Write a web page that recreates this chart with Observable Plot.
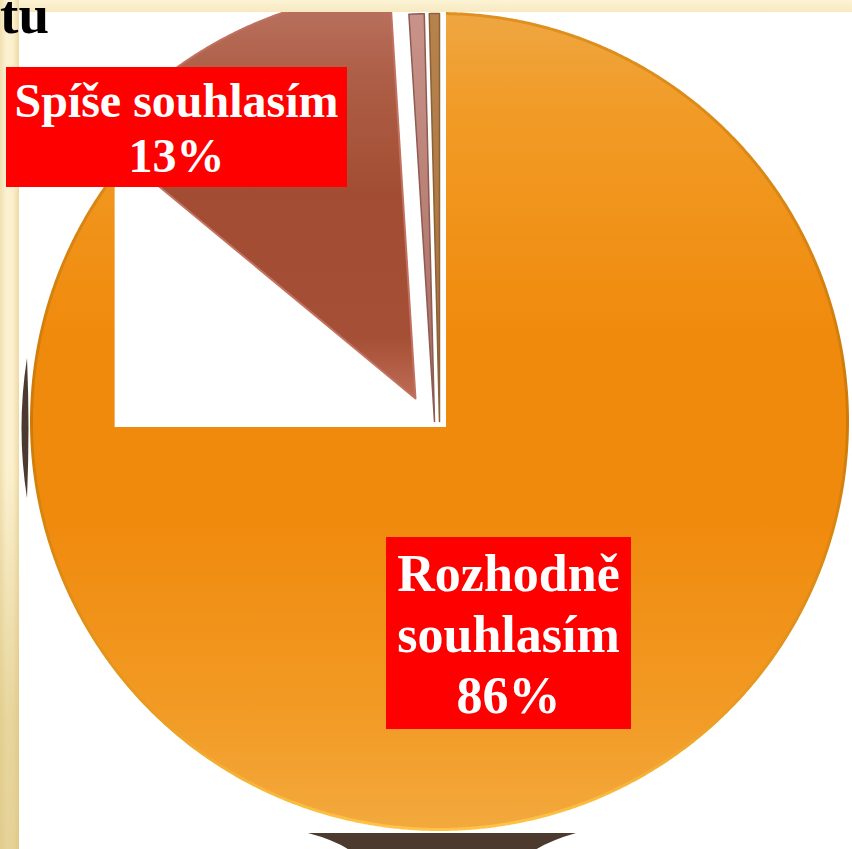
<!DOCTYPE html>
<html>
<head>
<meta charset="utf-8">
<script src="https://cdn.jsdelivr.net/npm/d3@7"></script>
<script src="https://cdn.jsdelivr.net/npm/@observablehq/plot@0.6"></script>
<style>
html, body { margin:0; padding:0; width:852px; height:849px; overflow:hidden; }
body { position:relative; background:#fbf0cb; }
#topstrip { position:absolute; left:0; top:0; width:852px; height:12px;
  background:linear-gradient(to bottom, #fdf4d6, #f7e9c0); }
#leftstrip { position:absolute; left:0; top:0; width:19px; height:849px;
  background:
    linear-gradient(to bottom, rgba(225,200,130,0) 0%, rgba(225,200,130,0) 55%, rgba(215,190,115,0.55) 85%, rgba(215,190,115,0.6) 100%),
    linear-gradient(to right, #f1e0b0 0%, #fcf2d1 35%, #fbefca 70%, #ecd9a6 100%); }
#paper { position:absolute; left:19px; top:12px; width:833px; height:837px; background:#fff; }
#deco { position:absolute; left:0; top:0; }
#chart { position:absolute; left:0; top:0; }
#chart svg { display:block; clip-path: inset(12px 0 0 19px); }
.lbl { position:absolute; box-sizing:border-box; background:#ff0000; color:#fff;
  font-family:"Liberation Serif","Times New Roman",serif; font-weight:bold; text-align:center; white-space:nowrap; }
#title { position:absolute; right:803px; top:-13px; font-family:"Liberation Serif","Times New Roman",serif;
  font-weight:bold; font-size:55px; line-height:55px; color:#000; }
</style>
</head>
<body>
<div id="topstrip"></div>
<div id="leftstrip"></div>
<div id="paper"></div>
<svg id="deco" width="852" height="849">
  <path d="M27,358 Q16,428 27,498 Q30,428 27,358 Z" fill="#4d3a2e"/>
  <path d="M308,833 L576,833 Q548,841 532,852 L352,852 Q338,841 308,833 Z" fill="#4d3a2e"/>
</svg>
<div id="chart"></div>
<div id="title">tu</div>
<script>
// ---- data ----
const categories = ["Rozhodně souhlasím", "Spíše souhlasím", "Spíše nesouhlasím", "Rozhodně nesouhlasím"];
const values = [86, 13, 0.6, 0.4];
const percentLabels = ["86%", "13%", "", ""];
const labelLines = [["Rozhodně", "souhlasím"], ["Spíše souhlasím"], [], []];

// ---- layout / style ----
const W = 852, H = 849, CX = 439, CY = 421, RPX = 408;
const explodePx = [[0, 0], [-24, -23], [-5, 0], [0, 0]];   // screen px offsets per slice
const fills = ["url(#g0)", "url(#g1)", "url(#g2)", "url(#g3)"];
const strokes = ["url(#g0s)", "#c07260", "#8d5b52", "#8d6035"];
const strokeWidths = [3, 2, 1.5, 1.5];
const labelBoxes = [
  {left:386, top:537, width:245, height:192, font:52, lh:61, pad:6},
  {left:6, top:67, width:341, height:120, font:48, lh:55, pad:6}
];

const pie = d3.pie().sort(null).value(d => d)(values);

function slicePoints(i) {
  const a = pie[i];
  const ox = explodePx[i][0] / RPX, oy = -explodePx[i][1] / RPX;
  const pts = [{x: ox, y: oy}];
  const n = Math.max(4, Math.ceil((a.endAngle - a.startAngle) / 0.005));
  for (let k = 0; k <= n; k++) {
    const t = a.startAngle + (a.endAngle - a.startAngle) * k / n;
    pts.push({x: ox + Math.sin(t), y: oy + Math.cos(t)});
  }
  return pts;
}

// white cut-out box: bounding box of the 13% slice's nominal position (with a small bevel margin)
const b = pie[1];
const bxs = d3.range(0, 101).map(k => Math.sin(b.startAngle + (b.endAngle - b.startAngle) * k / 100));
const bys = d3.range(0, 101).map(k => Math.cos(b.startAngle + (b.endAngle - b.startAngle) * k / 100));
const cutBox = [{
  x1: Math.min(0, d3.min(bxs)) - 10 / RPX,
  x2: Math.max(0, d3.max(bxs)) + 7 / RPX,
  y1: Math.min(0, d3.min(bys)) - 6 / RPX,
  y2: Math.max(0, d3.max(bys)) + 2 / RPX
}];

function sliceMark(i) {
  return Plot.line(slicePoints(i), {
    x: "x", y: "y", curve: "linear-closed",
    fill: fills[i], stroke: strokes[i], strokeWidth: strokeWidths[i], strokeLinejoin: "round"
  });
}

const chart = Plot.plot({
  width: W, height: H,
  marginTop: 0, marginRight: 0, marginBottom: 0, marginLeft: 0,
  x: {domain: [-CX / RPX, (W - CX) / RPX], axis: null},
  y: {domain: [-(H - CY) / RPX, CY / RPX], axis: null},
  style: {background: "transparent", overflow: "visible"},
  marks: [
    sliceMark(0),
    Plot.rect(cutBox, {x1: "x1", x2: "x2", y1: "y1", y2: "y2", fill: "white"}),
    sliceMark(3),
    sliceMark(2),
    sliceMark(1)
  ]
});

const svg = d3.select(chart);
const defs = svg.insert("defs", ":first-child");
function grad(id, stops) {
  const g = defs.append("linearGradient").attr("id", id)
    .attr("x1", 0).attr("y1", 0).attr("x2", 0).attr("y2", 1);
  stops.forEach(([o, c]) => g.append("stop").attr("offset", o).attr("stop-color", c));
}
grad("g0", [[0, "#efa641"], [0.12, "#f19b26"], [0.4, "#f08a0c"], [0.62, "#f08a0d"], [0.85, "#f29a24"], [1, "#f3a93d"]]);
grad("g0s", [[0, "#e0901e"], [0.5, "#cf7a08"], [0.85, "#e89a20"], [1, "#ffc447"]]);
grad("g1", [[0, "#bb7563"], [0.2, "#ae5f47"], [0.5, "#a24d33"], [0.85, "#a54f36"], [1, "#c06c55"]]);
grad("g2", [[0, "#c99389"], [1, "#a86c60"]]);
grad("g3", [[0, "#b7834c"], [1, "#a57040"]]);

document.getElementById("chart").appendChild(chart);

// ---- labels ----
[0, 1].forEach((i) => {
  const box = labelBoxes[i];
  const div = document.createElement("div");
  div.className = "lbl";
  Object.assign(div.style, {
    left: box.left + "px", top: box.top + "px", width: box.width + "px", height: box.height + "px",
    fontSize: box.font + "px", lineHeight: box.lh + "px", paddingTop: box.pad + "px"
  });
  const lines = labelLines[i].concat([percentLabels[i]]);
  lines.forEach(t => {
    const l = document.createElement("div");
    l.textContent = t;
    div.appendChild(l);
  });
  document.body.appendChild(div);
});
</script>
</body>
</html>
